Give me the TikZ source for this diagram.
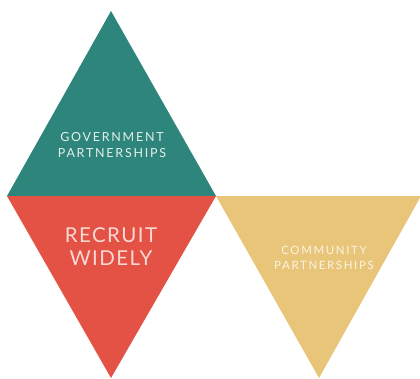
\documentclass[tikz,border=0pt]{standalone}
\usepackage{fontspec}
\setmainfont{Lato}
\newfontfamily\spaced[LetterSpace=14]{Lato}
\newfontfamily\spacedwide[LetterSpace=7]{Lato}
\definecolor{govteal}{HTML}{2E857B}
\definecolor{recred}{HTML}{E35244}
\definecolor{comgold}{HTML}{E9C57A}
\definecolor{govtext}{HTML}{E4EFEC}
\definecolor{rectext}{HTML}{F9D9D3}
\definecolor{comtext}{HTML}{FBF4E2}
\begin{document}
\begin{tikzpicture}[x=1pt,y=-1pt,
  label/.style={align=center,inner sep=0pt}]
\useasboundingbox (0,0) rectangle (420,378);
% triangles
\fill[govteal] (111,11) coordinate (gtop) -- (7,196) coordinate (gl) -- (216,196) coordinate (gr) -- cycle;
\fill[recred] (gl) -- (gr) -- (111,378) coordinate (rbot) -- cycle;
\fill[comgold] (216,196) -- (421,196) -- (319,378) coordinate (cbot) -- cycle;
% labels
\node[label,text=govtext,font=\spaced\fontsize{12.5}{16}\selectfont] (gov) at (112,145) {GOVERNMENT\\PARTNERSHIPS};
\node[label,text=rectext,font=\spacedwide\fontsize{20.5}{23}\selectfont] (rec) at (111,247) {RECRUIT\\WIDELY};
\node[label,text=comtext,font=\spaced\fontsize{11.5}{15.5}\selectfont] (com) at (324,258) {COMMUNITY\\PARTNERSHIPS};
\end{tikzpicture}
\end{document}
